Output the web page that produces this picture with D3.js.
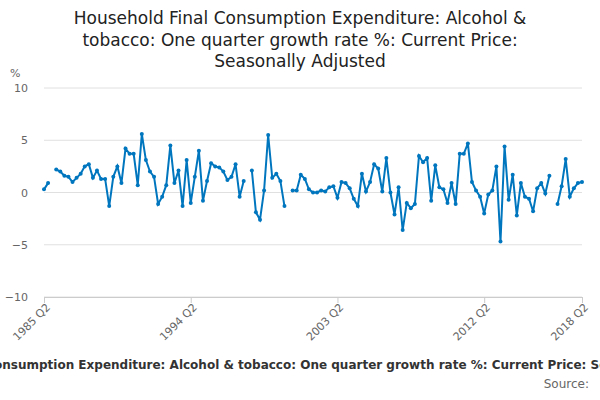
<!DOCTYPE html>
<html><head><meta charset="utf-8">
<script src="https://cdn.jsdelivr.net/npm/d3@7"></script>
<style>body{margin:0;background:#fff;font-family:"DejaVu Sans",sans-serif}</style>
</head><body><svg id="c" width="600" height="400"></svg>
<script>
const titleLines = ["Household Final Consumption Expenditure: Alcohol &","tobacco: One quarter growth rate %: Current Price:","Seasonally Adjusted"];
const footer = "Household Final Consumption Expenditure: Alcohol & tobacco: One quarter growth rate %: Current Price: Seasonally Adjusted";
const startYear = 1985, startQ = 2;
const values = [0.3,0.9,null,2.2,2.0,1.6,1.5,1.0,1.4,1.8,2.5,2.7,1.4,2.1,1.3,1.3,-1.3,1.5,2.5,0.9,
4.2,3.7,3.7,0.7,5.6,3.1,2.0,1.5,-1.1,-0.4,0.7,4.5,0.9,2.1,-1.3,3.1,-1.0,1.5,4.0,-0.8,
1.1,2.8,2.5,2.4,2.0,1.2,1.5,2.7,-0.4,1.1,null,2.1,-1.9,-2.6,0.2,5.5,1.4,1.8,1.1,-1.3,
null,0.2,0.2,1.7,1.3,0.3,0.0,0.0,0.2,0.1,0.5,0.6,-0.5,1.0,0.9,0.4,-0.6,-1.3,1.8,0.1,
1.0,2.7,2.3,0.1,3.3,0.0,-2.1,0.5,-3.6,-1.0,-1.5,-1.1,3.5,2.9,3.3,-0.8,2.6,0.5,0.3,-1.0,
0.9,-1.1,3.7,3.7,4.7,1.0,0.2,-0.4,-2.0,-0.2,0.2,2.5,-4.7,4.4,-0.7,1.7,-2.2,0.9,-0.4,-0.6,
-1.8,0.4,0.9,-0.1,1.6,null,-1.1,0.6,3.2,-0.4,0.4,0.9,1.0];
const labelIdx = [0,36,72,108,132];
const yTicks = [-10,-5,0,5,10];
const qLabel = i => { const t=(startQ-1)+i; return (startYear+Math.floor(t/4))+" Q"+(t%4+1); };

const svg = d3.select("#c");
const x = d3.scaleLinear().domain([0,values.length-1]).range([44,582]);
const y = d3.scaleLinear().domain([-10,10]).range([297,88]);

svg.append("g").selectAll("text").data(titleLines).join("text")
 .attr("x",300).attr("y",(d,i)=>24+i*21.5).attr("text-anchor","middle")
 .attr("font-size",17).attr("fill","#222").text(d=>d);

svg.append("g").selectAll("line").data(yTicks).join("line")
 .attr("x1",44).attr("x2",582).attr("y1",d=>y(d)).attr("y2",d=>y(d))
 .attr("stroke","#e0e0e0");
svg.append("g").attr("transform","translate(28,0)")
 .call(d3.axisLeft(y).tickValues(yTicks).tickSize(0).tickPadding(0))
 .call(g=>g.select(".domain").remove())
 .selectAll("text").attr("font-size",11).attr("fill","#666").attr("font-family","DejaVu Sans");
svg.append("text").attr("x",10).attr("y",77).attr("font-size",11).attr("fill","#666").text("%");

const xa = svg.append("g").attr("transform","translate(0,297)")
 .call(d3.axisBottom(x).tickValues(labelIdx).tickFormat(qLabel).tickSize(6));
xa.select(".domain").attr("stroke","#ccc");
xa.selectAll("line").attr("stroke","#ccc");
xa.selectAll("text").attr("font-size",11).attr("fill","#666").attr("font-family","DejaVu Sans")
 .attr("text-anchor","end").attr("transform","rotate(-45)").attr("dx","-0.3em").attr("dy","0.3em");

const line = d3.line().defined(d=>d!=null).x((d,i)=>x(i)).y(d=>y(d));
svg.append("path").datum(values).attr("d",line).attr("fill","none")
 .attr("stroke","#0076bf").attr("stroke-width",2);
svg.append("g").selectAll("circle").data(values.map((v,i)=>[i,v]).filter(d=>d[1]!=null)).join("circle")
 .attr("cx",d=>x(d[0])).attr("cy",d=>y(d[1])).attr("r",2).attr("fill","#0076bf");

svg.append("text").attr("x",300).attr("y",369).attr("text-anchor","middle")
 .attr("font-size",12).attr("font-weight","bold").attr("fill","#333").text(footer);
svg.append("text").attr("x",589).attr("y",388).attr("text-anchor","end")
 .attr("font-size",12).attr("fill","#666").text("Source:");
</script></body></html>
